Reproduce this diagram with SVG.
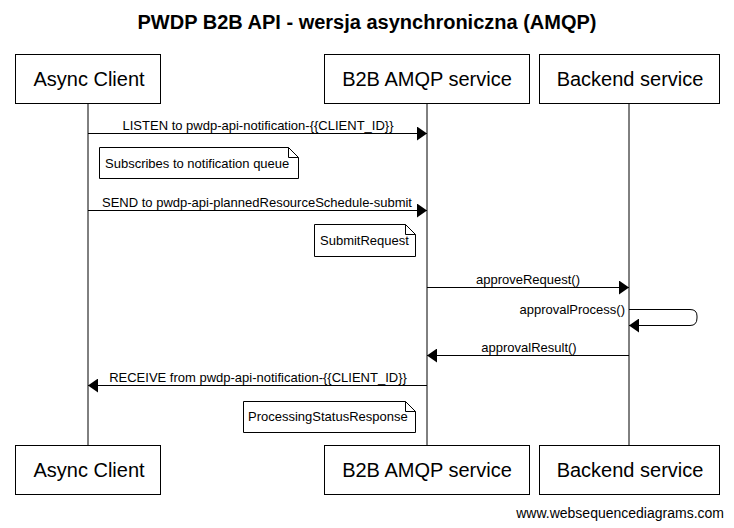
<svg xmlns="http://www.w3.org/2000/svg" width="734" height="528" viewBox="0 0 734 528">
<style>
.box{fill:#fff;stroke:#000;stroke-width:1}
.bl{font-family:"Liberation Sans",Arial,sans-serif;font-size:20px;text-anchor:middle}
.life{stroke:#000;stroke-width:1}
.msg{stroke:#000;stroke-width:1;fill:none}
.ml{font-family:"Liberation Sans",Arial,sans-serif;font-size:13px;text-anchor:middle}
.note{fill:#fff;stroke:#000;stroke-width:1}
.nl{font-family:"Liberation Sans",Arial,sans-serif;font-size:13px}
</style>
<defs>
<marker id="ah" markerWidth="10" markerHeight="14" refX="10" refY="7" orient="auto" markerUnits="userSpaceOnUse">
<path d="M0,0 L10,7 L0,14 Z" fill="#000"/>
</marker>
</defs>
<rect width="734" height="528" fill="#fff"/>
<text x="367" y="29" font-family="'Liberation Sans',Arial,sans-serif" font-size="20" font-weight="bold" text-anchor="middle">PWDP B2B API - wersja asynchroniczna (AMQP)</text>
<g id="lifelines">
<line class="life" x1="88" y1="103" x2="88" y2="445"/>
<line class="life" x1="427" y1="103" x2="427" y2="445"/>
<line class="life" x1="629" y1="103" x2="629" y2="445"/>
</g>
<g id="node-async-client">
<rect class="box" x="15.5" y="54.5" width="145" height="49"/>
<text class="bl" x="89" y="86">Async Client</text>
<rect class="box" x="15.5" y="445.5" width="145" height="49"/>
<text class="bl" x="89" y="477">Async Client</text>
</g>
<g id="node-b2b">
<rect class="box" x="324.5" y="54.5" width="205" height="49"/>
<text class="bl" x="427" y="86">B2B AMQP service</text>
<rect class="box" x="324.5" y="445.5" width="205" height="49"/>
<text class="bl" x="427" y="477">B2B AMQP service</text>
</g>
<g id="node-backend">
<rect class="box" x="539.5" y="54.5" width="180" height="49"/>
<text class="bl" x="630" y="86">Backend service</text>
<rect class="box" x="539.5" y="445.5" width="180" height="49"/>
<text class="bl" x="630" y="477">Backend service</text>
</g>
<g id="connectors">
<line class="msg" x1="88" y1="133.5" x2="427" y2="133.5" marker-end="url(#ah)"/>
<text class="ml" x="258" y="130">LISTEN to pwdp-api-notification-{{CLIENT_ID}}</text>
<line class="msg" x1="88" y1="210.5" x2="427" y2="210.5" marker-end="url(#ah)"/>
<text class="ml" x="257" y="207">SEND to pwdp-api-plannedResourceSchedule-submit</text>
<line class="msg" x1="427" y1="287.5" x2="629" y2="287.5" marker-end="url(#ah)"/>
<text class="ml" x="528" y="284">approveRequest()</text>
<path class="msg" d="M629,309.5 H690 Q697,309.5 697,316 V318 Q697,325.5 690,325.5 H629" marker-end="url(#ah)"/>
<text class="ml" x="625" y="314" style="text-anchor:end">approvalProcess()</text>
<line class="msg" x1="629" y1="355.5" x2="427" y2="355.5" marker-end="url(#ah)"/>
<text class="ml" x="529" y="352">approvalResult()</text>
<line class="msg" x1="427" y1="385.5" x2="88" y2="385.5" marker-end="url(#ah)"/>
<text class="ml" x="258" y="382">RECEIVE from pwdp-api-notification-{{CLIENT_ID}}</text>
</g>
<g id="note-subscribes">
<path class="note" d="M99.5,147.5 H288.5 L298.5,157.5 V178.5 H99.5 Z M288.5,147.5 V157.5 H298.5"/>
<text class="nl" x="105" y="168">Subscribes to notification queue</text>
</g>
<g id="note-submit">
<path class="note" d="M314.5,224.5 H405.5 L415.5,234.5 V256.5 H314.5 Z M405.5,224.5 V234.5 H415.5"/>
<text class="nl" x="320" y="245">SubmitRequest</text>
</g>
<g id="note-processing">
<path class="note" d="M243.5,401.5 H405.5 L415.5,411.5 V432.5 H243.5 Z M405.5,401.5 V411.5 H415.5"/>
<text class="nl" x="248" y="421">ProcessingStatusResponse</text>
</g>
<text x="724" y="518" font-family="'Liberation Sans',Arial,sans-serif" font-size="14" text-anchor="end">www.websequencediagrams.com</text>
</svg>
